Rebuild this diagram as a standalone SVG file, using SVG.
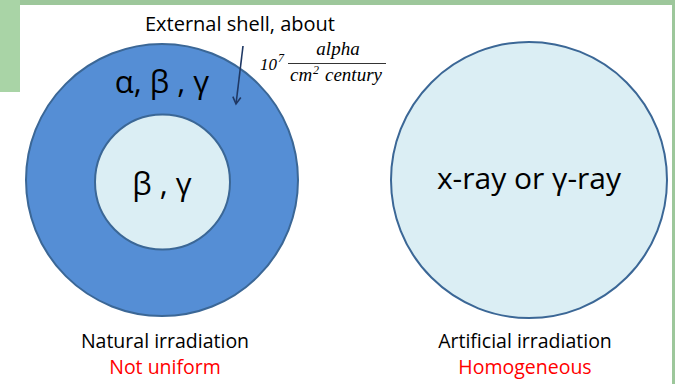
<svg xmlns="http://www.w3.org/2000/svg" width="675" height="384" viewBox="0 0 675 384">
<style>
.t{font-family:"Open Sans","Liberation Sans",sans-serif;fill:#000}
.red{fill:#ff0000}
.m{font-family:"Liberation Serif",serif;font-style:italic;fill:#000}
.outer{fill:#558ed5;stroke:#3b6796;stroke-width:2}
.inner{fill:#dbeef4;stroke:#3b6796;stroke-width:2}
</style>
<defs>
<marker id="ah" markerWidth="10" markerHeight="10" refX="8" refY="5" orient="auto" markerUnits="userSpaceOnUse">
<path d="M1,1 L8,5 L1,9" fill="none" stroke="#1f3864" stroke-width="1.6"/>
</marker>
</defs>
<rect width="675" height="384" fill="#ffffff"/>
<rect x="0" y="0" width="675" height="5" fill="#9dc79b"/>
<rect x="0" y="0" width="20" height="92" fill="#a9d4a6"/>
<rect x="672" y="0" width="3" height="384" fill="#9dc79b"/>
<g id="natural">
<circle class="outer" cx="162" cy="180" r="136"/>
<circle class="inner" cx="162.5" cy="182" r="67.5"/>
<text class="t" x="162" y="93" font-size="31" text-anchor="middle">α, β , γ</text>
<text class="t" x="162" y="195" font-size="31" text-anchor="middle">β , γ</text>
</g>
<g id="artificial">
<circle class="inner" cx="529" cy="180" r="138"/>
<text class="t" x="529" y="189" font-size="30" text-anchor="middle">x-ray or γ-ray</text>
</g>
<g id="shell-label">
<text class="t" x="240" y="31" font-size="20" text-anchor="middle">External shell, about</text>
<text class="m" x="260" y="70" font-size="17" font-style="normal">10</text>
<text class="m" x="278" y="62" font-size="12" font-style="normal">7</text>
<text class="m" x="338" y="55" font-size="19" text-anchor="middle">alpha</text>
<line x1="288" y1="63.5" x2="386" y2="63.5" stroke="#000" stroke-width="0.8"/>
<text class="m" x="290" y="81" font-size="19">cm</text>
<text class="m" x="313" y="74" font-size="12" font-style="normal">2</text>
<text class="m" x="325" y="81" font-size="19">century</text>
</g>
<g id="captions">
<text class="t" x="165" y="348" font-size="19.5" text-anchor="middle">Natural irradiation</text>
<text class="t red" x="165" y="374" font-size="19.5" text-anchor="middle">Not uniform</text>
<text class="t" x="525" y="348" font-size="19.5" text-anchor="middle">Artificial irradiation</text>
<text class="t red" x="525" y="374" font-size="19.5" text-anchor="middle">Homogeneous</text>
</g>
<g id="connectors">
<line x1="243" y1="46" x2="236" y2="104" stroke="#1f3864" stroke-width="1.6" marker-end="url(#ah)"/>
</g>
</svg>
